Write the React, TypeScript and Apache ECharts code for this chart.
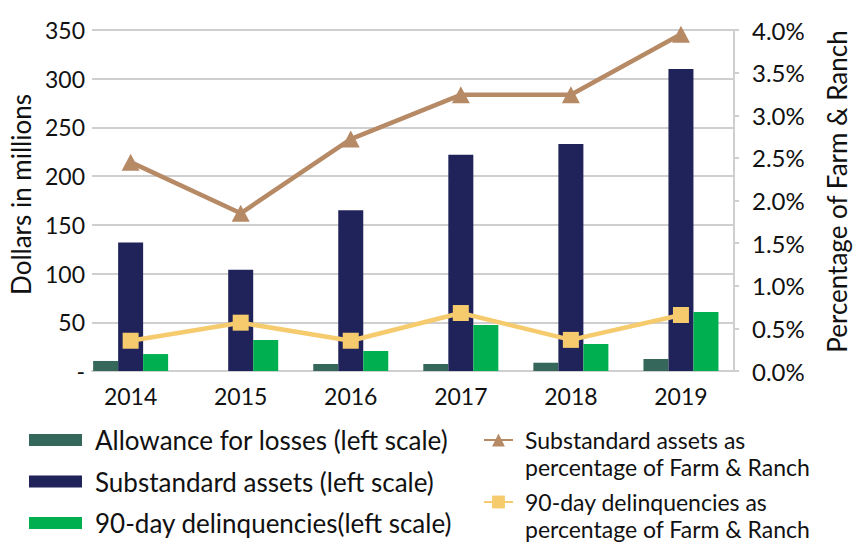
import React, { useEffect, useRef } from "react";
import * as echarts from "echarts";

const years = [2014, 2015, 2016, 2017, 2018, 2019];
const allowance = [10.3, 0, 7.2, 7.2, 8.5, 12.3];
const substandard = [132, 104, 165, 222, 233, 310];
const delinquencies = [17.4, 31.8, 20.5, 47.2, 27.7, 60.6];
const substandardPct = [2.45, 1.85, 2.72, 3.24, 3.24, 3.95];
const delinquencyPct = [0.355, 0.567, 0.355, 0.68, 0.365, 0.657];

const FONT = "Lato";

export default function App() {
  const ref = useRef<HTMLDivElement>(null);
  useEffect(() => {
    if (!ref.current) return;
    const chart = echarts.init(ref.current, null, { renderer: "svg" });
    const pair = (arr: number[]) => years.map((y, i) => [y, arr[i]]);
    const barNames = [
      "Allowance for losses (left scale)",
      "Substandard assets (left scale)",
      "90-day delinquencies(left scale)",
    ];
    const lineNames = [
      "Substandard assets as\npercentage of Farm & Ranch",
      "90-day delinquencies as\npercentage of Farm & Ranch",
    ];
    chart.setOption({
      animation: false,
      textStyle: { fontFamily: FONT },
      grid: { left: 92, right: 110, top: 30, bottom: 175 },
      xAxis: {
        type: "value",
        min: 2013.649,
        max: 2019.482,
        splitLine: { show: false },
        axisLine: { show: true, lineStyle: { color: "#CFCFCF", width: 2 } },
        axisTick: { show: false },
        axisLabel: {
          customValues: years,
          formatter: (v: number) => String(v),
          color: "#111",
          fontSize: 23,
          fontFamily: FONT,
          margin: 13,
        },
      },
      yAxis: [
        {
          type: "value",
          min: 0,
          max: 350,
          interval: 50,
          name: "Dollars in millions",
          nameLocation: "middle",
          nameGap: 46,
          nameTextStyle: { fontSize: 26, color: "#111", fontFamily: FONT, padding: [0, 0, 0, 12] },
          axisLine: { show: false },
          axisTick: { show: false },
          splitLine: { lineStyle: { color: "#CFCFCF", width: 2 } },
          axisLabel: {
            formatter: (v: number) => (v === 0 ? "-" : String(v)),
            color: "#111",
            fontSize: 23,
            fontFamily: FONT,
            margin: 7,
          },
        },
        {
          type: "value",
          min: 0,
          max: 4,
          interval: 0.5,
          position: "right",
          name: "Percentage of Farm & Ranch",
          nameLocation: "middle",
          nameGap: 90,
          nameTextStyle: { fontSize: 26, color: "#111", fontFamily: FONT, padding: [0, 0, 0, 18] },
          axisLine: { show: true, lineStyle: { color: "#CFCFCF", width: 2 } },
          axisTick: { show: true, length: 5, lineStyle: { color: "#CFCFCF", width: 2 } },
          splitLine: { show: false },
          axisLabel: {
            formatter: (v: number) => v.toFixed(1) + "%",
            color: "#111",
            fontSize: 24,
            fontFamily: FONT,
            margin: 18,
          },
        },
      ],
      legend: [
        {
          data: barNames,
          orient: "vertical",
          left: 29,
          top: 427,
          padding: 0,
          itemWidth: 53,
          itemHeight: 12,
          itemGap: 15.5,
          icon: "rect",
          textStyle: { fontSize: 26, color: "#111", fontFamily: FONT, padding: [0, 0, 0, 8] },
        },
        {
          data: lineNames,
          orient: "vertical",
          left: 483,
          top: 399.5,
          width: 370,
          height: 220,
          padding: 0,
          itemWidth: 29,
          itemHeight: 16,
          itemGap: -19,
          formatter: (name: string) => " \n" + name,
          textStyle: {
            fontSize: 23,
            color: "#111",
            fontFamily: FONT,
            lineHeight: 27,
            padding: [0, 0, 0, 7],
          },
        },
      ],
      series: [
        {
          name: barNames[0],
          type: "bar",
          data: pair(allowance),
          barWidth: 25,
          barGap: "0%",
          itemStyle: { color: "#35685A" },
        },
        {
          name: barNames[1],
          type: "bar",
          data: pair(substandard),
          barWidth: 25,
          barGap: "0%",
          itemStyle: { color: "#20235A" },
        },
        {
          name: barNames[2],
          type: "bar",
          data: pair(delinquencies),
          barWidth: 25,
          barGap: "0%",
          itemStyle: { color: "#00B050" },
        },
        {
          name: lineNames[0],
          type: "line",
          yAxisIndex: 1,
          data: pair(substandardPct),
          symbol: "triangle",
          symbolSize: [18, 17],
          lineStyle: { color: "#B78A66", width: 4.5 },
          itemStyle: { color: "#B78A66" },
        },
        {
          name: lineNames[1],
          type: "line",
          yAxisIndex: 1,
          data: pair(delinquencyPct),
          symbol: "rect",
          symbolSize: 16,
          lineStyle: { color: "#F5CB6D", width: 4.5 },
          itemStyle: { color: "#F5CB6D" },
        },
      ],
    });
    return () => chart.dispose();
  }, []);
  return (
    <div
      ref={ref}
      style={{ position: "fixed", left: 0, top: 0, width: 858, height: 546, background: "#fff" }}
    />
  );
}
